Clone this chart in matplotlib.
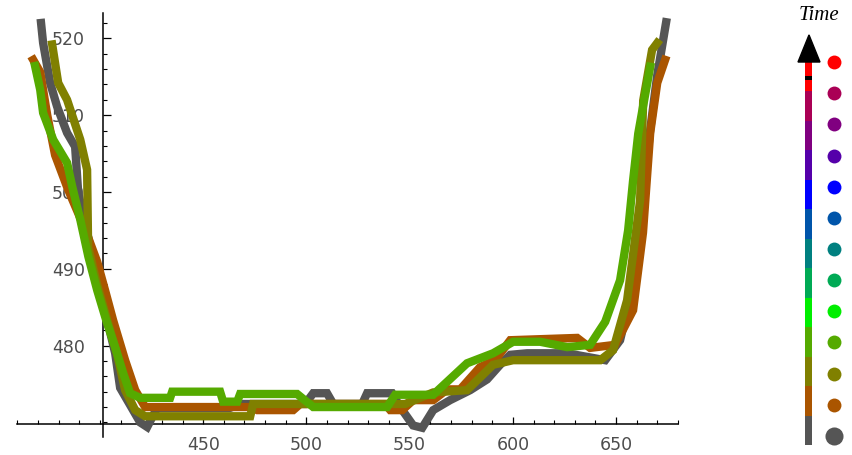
import matplotlib.pyplot as plt
from matplotlib.patches import Polygon
import numpy as np

# traces, one per time step (x position, y value)
gray_x = [371.5, 372.5, 375.9, 379.3, 384.1, 388.0, 389.5, 400.1, 407.4, 409.8, 419.5, 422.9,
          427.7, 463.1, 467.9, 499.4, 503.3, 510.0, 513.0, 527.0, 529.4, 541.5, 545.4, 551.7,
          556.1, 561.4, 569.6, 579.3, 587.5, 593.8, 598.7, 606.9, 626.3, 644.7, 651.9, 657.7,
          663.0, 666.5, 669.9, 674.2]
gray_y = [522.0, 519.4, 514.2, 511.1, 507.7, 505.9, 499.9, 487.2, 479.0, 474.5, 470.0, 469.4,
          471.9, 471.9, 472.4, 472.4, 473.8, 473.8, 472.4, 472.4, 473.8, 473.8, 472.0, 469.6,
          469.3, 471.6, 472.9, 474.2, 475.6, 477.5, 478.8, 479.0, 479.0, 478.1, 480.7, 487.2,
          498.9, 508.1, 515.2, 522.1]

orange_x = [367.7, 371.1, 374.5, 378.3, 384.6, 392.9, 398.7, 402.5, 406.4, 412.2, 417.1, 421.9,
            429.2, 472.8, 476.2, 493.6, 497.0, 538.1, 540.6, 546.4, 551.7, 561.4, 568.2, 574.5,
            584.1, 591.4, 598.7, 631.1, 637.4, 649.5, 658.2, 663.0, 666.5, 669.9, 673.7]
orange_y = [517.2, 515.6, 510.0, 504.8, 500.3, 495.1, 490.9, 487.2, 483.3, 478.1, 474.2, 472.0,
            472.0, 472.0, 471.6, 471.6, 472.4, 472.4, 471.6, 471.6, 472.9, 472.9, 474.3, 474.3,
            477.2, 478.1, 480.7, 481.0, 479.7, 480.1, 484.6, 494.7, 507.7, 514.2, 517.2]

olive_x = [376.9, 379.8, 384.1, 390.5, 393.8, 394.3, 398.7, 404.0, 408.4, 412.2, 417.1, 421.9,
           472.8, 474.2, 547.8, 561.4, 577.8, 590.4, 600.1, 642.3, 648.5, 655.3, 661.6, 663.1,
           667.4, 669.9]
olive_y = [519.2, 514.2, 512.0, 506.8, 502.9, 492.8, 487.9, 482.9, 478.8, 474.2, 471.6, 470.8,
           470.8, 472.4, 472.4, 473.9, 474.2, 477.5, 478.1, 478.1, 479.4, 485.9, 498.9, 511.9,
           518.5, 519.4]

green_x = [368.6, 371.1, 372.5, 377.4, 384.1, 386.6, 390.5, 394.4, 398.7, 403.5, 407.4, 411.3,
           414.6, 419.5, 434.0, 435.0, 458.2, 459.7, 466.5, 467.9, 495.5, 503.3, 539.1, 543.0,
           561.4, 577.8, 590.4, 600.1, 613.2, 626.3, 637.4, 644.7, 651.9, 655.8, 658.2, 660.7,
           664.0, 666.5]
green_y = [516.4, 513.3, 510.3, 506.8, 503.8, 500.7, 496.4, 491.6, 487.2, 482.9, 479.8, 476.4,
           473.8, 473.2, 473.2, 474.0, 474.0, 472.7, 472.7, 473.7, 473.7, 472.0, 472.0, 473.6,
           473.6, 477.7, 479.0, 480.5, 480.5, 479.8, 480.1, 483.1, 488.5, 495.0, 501.5, 507.6,
           512.6, 516.3]

# time colour scale, earliest first
time_colors = ['#555555', '#aa5500', '#808000', '#55aa00', '#00ee00', '#00aa55', '#008080',
               '#0055aa', '#0000ff', '#5500aa', '#800080', '#aa0055', '#ff0000']

traces = [(gray_x, gray_y), (orange_x, orange_y), (olive_x, olive_y), (green_x, green_y)]

fig = plt.figure(figsize=(8.52, 4.55), dpi=100)
ax = fig.add_axes([17.3 / 852, 1 - 437 / 455, 660.8 / 852, 424 / 455])

for (xs, ys), c in zip(traces, time_colors):
    ax.plot(xs, ys, color=c, lw=6, zorder=3, solid_joinstyle='miter')

ax.set_xlim(360, 680)
ax.set_ylim(468.1, 523.3)
ax.spines['left'].set_position(('data', 401.4))
ax.spines['bottom'].set_position(('data', 469.8))
ax.spines['top'].set_visible(False)
ax.spines['right'].set_visible(False)
for s in ('left', 'bottom'):
    ax.spines[s].set_linewidth(1.1)
    ax.spines[s].set_zorder(1)

ax.set_xticks([450, 500, 550, 600, 650])
ax.set_xticks(np.arange(360, 681, 10), minor=True)
ax.set_yticks([480, 490, 500, 510, 520])
ax.set_yticks(np.arange(470, 523, 2), minor=True)
ax.tick_params(axis='x', which='major', direction='in', length=5, width=0.9, pad=9,
               labelsize=12.5, labelcolor='#4d4d4d')
ax.tick_params(axis='y', which='major', direction='in', length=6, width=0.9, pad=12.7,
               labelsize=12.5, labelcolor='#4d4d4d')
ax.tick_params(which='minor', direction='in', length=3, width=0.8)
ax.patch.set_visible(False)

# legend: colour bar with arrow and one dot per time step
leg = fig.add_axes([790 / 852, 0, 62 / 852, 1])
leg.set_xlim(0, 62)
leg.set_ylim(-0.61, 13.99)
leg.axis('off')

steps = np.arange(len(time_colors))
edges = np.linspace(-0.29, 12.0, len(time_colors) + 1)
leg.bar(np.full(len(steps), 18.5), np.diff(edges), bottom=edges[:-1], width=7,
        color=time_colors, linewidth=0)
leg.bar(18.5, 0.12, bottom=11.42, width=7, color='black', linewidth=0)
leg.add_patch(Polygon([(8, 12.0), (30, 12.0), (19, 12.87)], closed=True, color='black'))
for i, c in zip(steps, time_colors):
    leg.plot(44, i, 'o', color=c, ms=13 if i == 0 else 10, mec='none')
leg.text(29, 13.5, 'Time', family='Liberation Serif', style='italic', fontsize=15,
         ha='center', va='center')

fig.savefig('out.png', dpi=100)
